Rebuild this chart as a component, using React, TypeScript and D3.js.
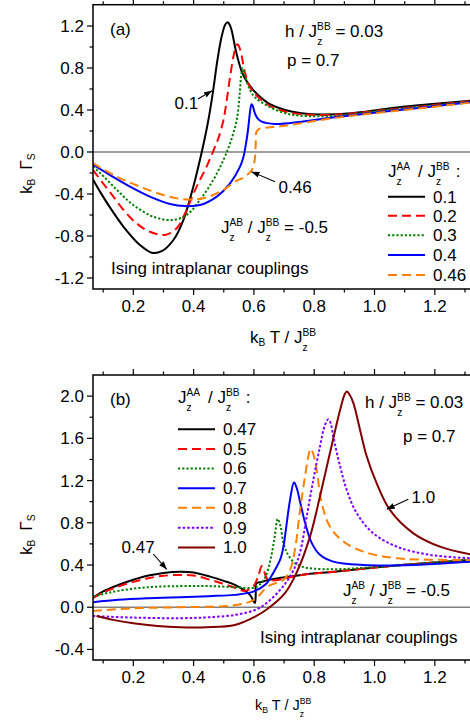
import React from "react";
import * as d3 from "d3";

// ---------- data ----------
// Panel (a): J_z^AA / J_z^BB series  (T, k_B Γ_S)
const a_0_1: [number, number][] = [[0.066,-0.26],[0.09,-0.38],[0.123,-0.53],[0.167,-0.71],[0.222,-0.886],[0.261,-0.959],[0.294,-0.945],[0.333,-0.838],[0.366,-0.648],[0.399,-0.33],[0.427,0],[0.449,0.305],[0.465,0.59],[0.479,0.876],[0.493,1.1],[0.505,1.215],[0.513,1.235],[0.52,1.21],[0.526,1.16],[0.543,0.93],[0.565,0.73],[0.598,0.59],[0.631,0.5],[0.653,0.455],[0.703,0.4],[0.758,0.37],[0.825,0.358],[0.924,0.37],[1.035,0.41],[1.145,0.445],[1.32,0.49]];
const a_0_2: [number, number][] = [[0.066,-0.17],[0.1,-0.3],[0.134,-0.425],[0.167,-0.55],[0.211,-0.68],[0.255,-0.76],[0.305,-0.79],[0.344,-0.727],[0.377,-0.55],[0.41,-0.33],[0.443,-0.14],[0.471,0.05],[0.482,0.13],[0.499,0.305],[0.51,0.495],[0.521,0.717],[0.532,0.908],[0.541,1.01],[0.545,1.026],[0.55,1.01],[0.559,0.92],[0.57,0.76],[0.587,0.62],[0.615,0.52],[0.653,0.44],[0.703,0.385],[0.758,0.36],[0.869,0.355],[1.035,0.4],[1.32,0.485]];
const a_0_3: [number, number][] = [[0.066,-0.14],[0.09,-0.2],[0.145,-0.36],[0.2,-0.505],[0.266,-0.616],[0.327,-0.648],[0.377,-0.6],[0.421,-0.457],[0.465,-0.267],[0.499,-0.076],[0.521,0.083],[0.543,0.305],[0.553,0.56],[0.558,0.74],[0.563,0.8],[0.57,0.73],[0.587,0.59],[0.604,0.52],[0.648,0.435],[0.703,0.37],[0.758,0.345],[0.869,0.345],[1.035,0.395],[1.32,0.48]];
const a_0_4: [number, number][] = [[0.066,-0.12],[0.123,-0.22],[0.189,-0.33],[0.255,-0.425],[0.322,-0.495],[0.371,-0.515],[0.421,-0.505],[0.477,-0.425],[0.521,-0.3],[0.554,-0.14],[0.565,-0.05],[0.572,0.05],[0.58,0.2],[0.587,0.38],[0.592,0.455],[0.596,0.44],[0.603,0.37],[0.612,0.32],[0.626,0.289],[0.67,0.267],[0.758,0.289],[0.869,0.33],[1.035,0.385],[1.32,0.475]];
const a_0_46: [number, number][] = [[0.066,-0.105],[0.145,-0.235],[0.222,-0.33],[0.3,-0.41],[0.366,-0.45],[0.432,-0.441],[0.499,-0.362],[0.537,-0.283],[0.57,-0.235],[0.593,-0.171],[0.603,-0.07],[0.606,0.08],[0.608,0.19],[0.615,0.216],[0.626,0.226],[0.703,0.25],[0.869,0.325],[1.035,0.38],[1.32,0.47]];

// Panel (b)
const b_0_47: [number, number][] = [[0.066,0.09],[0.1,0.15],[0.15,0.21],[0.2,0.26],[0.25,0.3],[0.3,0.325],[0.355,0.337],[0.4,0.33],[0.455,0.29],[0.5,0.25],[0.537,0.211],[0.587,0.117],[0.603,0.04],[0.606,0.12],[0.608,0.225],[0.626,0.24],[0.648,0.259],[0.758,0.306],[0.869,0.337],[1.09,0.4],[1.32,0.448]];
const b_0_5: [number, number][] = [[0.066,0.085],[0.1,0.14],[0.15,0.195],[0.2,0.24],[0.25,0.275],[0.3,0.298],[0.355,0.306],[0.4,0.3],[0.455,0.26],[0.5,0.22],[0.537,0.185],[0.57,0.155],[0.598,0.196],[0.615,0.3],[0.626,0.39],[0.635,0.33],[0.648,0.259],[0.758,0.306],[0.869,0.337],[1.09,0.4],[1.32,0.448]];
const b_0_6: [number, number][] = [[0.066,0.1],[0.1,0.125],[0.15,0.155],[0.25,0.19],[0.355,0.2],[0.45,0.2],[0.537,0.19],[0.6,0.185],[0.62,0.215],[0.64,0.3],[0.655,0.45],[0.668,0.65],[0.679,0.837],[0.688,0.77],[0.697,0.62],[0.709,0.52],[0.731,0.43],[0.758,0.385],[0.8,0.365],[0.869,0.36],[1.0,0.38],[1.32,0.45]];
const b_0_7: [number, number][] = [[0.066,0.047],[0.15,0.07],[0.25,0.085],[0.355,0.095],[0.45,0.105],[0.537,0.117],[0.6,0.15],[0.64,0.22],[0.665,0.33],[0.687,0.45],[0.698,0.575],[0.709,0.8],[0.72,1.02],[0.733,1.185],[0.743,1.12],[0.753,1.0],[0.77,0.796],[0.792,0.607],[0.819,0.496],[0.863,0.432],[0.963,0.4],[1.13,0.4],[1.32,0.432]];
const b_0_8: [number, number][] = [[0.066,-0.035],[0.2,-0.01],[0.355,0.0],[0.537,0.02],[0.6,0.07],[0.648,0.2],[0.698,0.259],[0.72,0.354],[0.736,0.543],[0.753,0.92],[0.77,1.25],[0.782,1.45],[0.788,1.5],[0.796,1.46],[0.808,1.3],[0.825,0.986],[0.852,0.764],[0.897,0.622],[0.963,0.527],[1.074,0.464],[1.32,0.448]];
const b_0_9: [number, number][] = [[0.066,-0.083],[0.2,-0.098],[0.355,-0.104],[0.45,-0.095],[0.537,-0.073],[0.604,-0.026],[0.648,0.053],[0.703,0.22],[0.731,0.35],[0.753,0.52],[0.775,0.859],[0.797,1.207],[0.819,1.52],[0.835,1.72],[0.847,1.78],[0.855,1.74],[0.863,1.62],[0.886,1.333],[0.908,1.11],[0.941,0.89],[0.996,0.7],[1.074,0.574],[1.184,0.496],[1.32,0.464]];
const b_1_0: [number, number][] = [[0.078,-0.083],[0.133,-0.12],[0.2,-0.152],[0.28,-0.178],[0.355,-0.19],[0.443,-0.19],[0.537,-0.168],[0.604,-0.089],[0.648,-0.01],[0.703,0.133],[0.742,0.33],[0.786,0.669],[0.819,1.048],[0.852,1.46],[0.886,1.87],[0.9,2.01],[0.908,2.044],[0.918,2.01],[0.93,1.934],[0.952,1.68],[0.974,1.43],[1.007,1.175],[1.051,0.922],[1.129,0.7],[1.217,0.574],[1.32,0.5]];

const xMajorTicks = [0.2, 0.4, 0.6, 0.8, 1.0, 1.2];
const xMinorTicks = [0.1, 0.3, 0.5, 0.7, 0.9, 1.1, 1.3];
const yMajorTicksA = [-1.2, -0.8, -0.4, 0, 0.4, 0.8, 1.2];
const yMinorTicksA = [-1.0, -0.6, -0.2, 0.2, 0.6, 1.0];
const yMajorTicksB = [-0.4, 0, 0.4, 0.8, 1.2, 1.6, 2.0];
const yMinorTicksB = [-0.2, 0.2, 0.6, 1.0, 1.4, 1.8];

const labelsA = ["0.1", "0.2", "0.3", "0.4", "0.46"];
const labelsB = ["0.47", "0.5", "0.6", "0.7", "0.8", "0.9", "1.0"];

// ---------- styles ----------
const FONT = "'Liberation Sans', Arial, Helvetica, sans-serif";
type Sty = { color: string; dash?: string };
const BLACK: Sty = { color: "#000000" };
const RED: Sty = { color: "#ff0000", dash: "9,5" };
const GREEN: Sty = { color: "#008000", dash: "2.2,2" };
const BLUE: Sty = { color: "#0000ff" };
const ORANGE: Sty = { color: "#ff8000", dash: "9,5" };
const PURPLE: Sty = { color: "#8000ff", dash: "2.6,2" };
const MAROON: Sty = { color: "#800000" };

const seriesA = [
  { data: a_0_1, s: BLACK },
  { data: a_0_2, s: RED },
  { data: a_0_3, s: GREEN },
  { data: a_0_4, s: BLUE },
  { data: a_0_46, s: ORANGE },
];
const seriesB = [
  { data: b_0_47, s: BLACK },
  { data: b_0_5, s: RED },
  { data: b_0_6, s: GREEN },
  { data: b_0_7, s: BLUE },
  { data: b_0_8, s: ORANGE },
  { data: b_0_9, s: PURPLE },
  { data: b_1_0, s: MAROON },
];

const xScale = d3.scaleLinear().domain([0.0663, 1.32]).range([93, 471]);
const yA = d3.scaleLinear().domain([-1.305, 1.403]).range([289, 4.7]);
const yB = d3.scaleLinear().domain([-0.5, 2.2]).range([660, 375]);

type Part = { n?: string; sub?: string; zsup?: string; dx?: number };

function Rich({ x, y, parts, fs = 17, anchor = "start", transform }: { x: number; y: number; parts: Part[]; fs?: number; anchor?: string; transform?: string }) {
  const ss = fs * 0.6;
  const subOffSmall = fs * 0.2;
  const subOffZ = fs * 0.47;
  const supOff = -fs * 0.39;
  let cur = 0;
  const out: React.ReactNode[] = [];
  parts.forEach((p, i) => {
    if (p.n !== undefined) {
      out.push(<tspan key={i} dx={p.dx || 0} dy={-cur}>{p.n}</tspan>);
      cur = 0;
    } else if (p.sub !== undefined) {
      out.push(<tspan key={i} fontSize={ss} dx={p.dx || 0} dy={subOffSmall - cur}>{p.sub}</tspan>);
      cur = subOffSmall;
    } else if (p.zsup !== undefined) {
      out.push(<tspan key={i + "z"} fontSize={ss} dx={p.dx || 0} dy={subOffZ - cur}>z</tspan>);
      out.push(<tspan key={i + "s"} fontSize={ss} dx={-ss * 0.5} dy={supOff - subOffZ}>{p.zsup}</tspan>);
      cur = supOff;
    }
  });
  return (
    <text x={x} y={y} fontSize={fs} fontFamily={FONT} textAnchor={anchor} transform={transform} fill="#000">
      {out}
    </text>
  );
}

function Panel({ y, yMaj, yMin, series, clipId }: { y: d3.ScaleLinear<number, number>; yMaj: number[]; yMin: number[]; series: { data: [number, number][]; s: Sty }[]; clipId: string }) {
  const [x0, x1] = xScale.range();
  const [yb, yt] = y.range();
  const line = d3
    .line<[number, number]>()
    .x((d) => xScale(d[0]))
    .y((d) => y(d[1]))
    .curve(d3.curveCatmullRom.alpha(0.5));
  return (
    <g>
      <defs>
        <clipPath id={clipId}>
          <rect x={x0} y={yt} width={x1 - x0} height={yb - yt} />
        </clipPath>
      </defs>
      <line x1={x0} x2={x1} y1={y(0)} y2={y(0)} stroke="#808080" strokeWidth={1.5} />
      <g clipPath={`url(#${clipId})`}>
        {series.map((sr, i) => (
          <path key={i} d={line(sr.data) || ""} fill="none" stroke={sr.s.color} strokeWidth={2} strokeDasharray={sr.s.dash} />
        ))}
      </g>
      <rect x={x0} y={yt} width={x1 - x0} height={yb - yt} fill="none" stroke="#000" strokeWidth={1.5} />
      {xMajorTicks.map((t) => (
        <g key={"xM" + t}>
          <line x1={xScale(t)} x2={xScale(t)} y1={yb} y2={yb + 6} stroke="#000" strokeWidth={1.2} />
          <line x1={xScale(t)} x2={xScale(t)} y1={yt} y2={yt - 6} stroke="#000" strokeWidth={1.2} />
        </g>
      ))}
      {xMinorTicks.map((t) => (
        <g key={"xm" + t}>
          <line x1={xScale(t)} x2={xScale(t)} y1={yb} y2={yb + 3.5} stroke="#000" strokeWidth={1.2} />
          <line x1={xScale(t)} x2={xScale(t)} y1={yt} y2={yt - 3.5} stroke="#000" strokeWidth={1.2} />
        </g>
      ))}
      {yMaj.map((t) => (
        <line key={"yM" + t} x1={x0} x2={x0 - 6} y1={y(t)} y2={y(t)} stroke="#000" strokeWidth={1.2} />
      ))}
      {yMin.map((t) => (
        <line key={"ym" + t} x1={x0} x2={x0 - 3.5} y1={y(t)} y2={y(t)} stroke="#000" strokeWidth={1.2} />
      ))}
      {yMaj.map((t) => (
        <text key={"yl" + t} x={84} y={y(t)} dy="0.35em" textAnchor="end" fontSize={17} fontFamily={FONT}>
          {t.toFixed(1)}
        </text>
      ))}
      {xMajorTicks.map((t) => (
        <text key={"xl" + t} x={xScale(t)} y={yb + 23} textAnchor="middle" fontSize={17} fontFamily={FONT}>
          {t.toFixed(1)}
        </text>
      ))}
    </g>
  );
}

function Legend({ x, ys, labels, series }: { x: number; ys: number[]; labels: string[]; series: { s: Sty }[] }) {
  return (
    <g>
      {labels.map((l, i) => (
        <g key={l}>
          <line x1={x} x2={x + 37} y1={ys[i]} y2={ys[i]} stroke={series[i].s.color} strokeWidth={2} strokeDasharray={series[i].s.dash} />
          <text x={x + 45} y={ys[i]} dy="0.35em" fontSize={17} fontFamily={FONT}>
            {l}
          </text>
        </g>
      ))}
    </g>
  );
}

function Arrow({ x1, y1, x2, y2 }: { x1: number; y1: number; x2: number; y2: number }) {
  return <line x1={x1} y1={y1} x2={x2} y2={y2} stroke="#000" strokeWidth={1.1} markerEnd="url(#arrowHead)" />;
}

export default function App() {
  const legendYA = [196.7, 215.7, 235.2, 255, 275];
  const legendYB = [429.3, 449, 468.5, 488.3, 507.8, 527.7, 547.5];
  const ylabel: Part[] = [{ n: "k" }, { sub: "B" }, { n: "Γ", dx: 9 }, { sub: "S" }];
  const xlabel: Part[] = [{ n: "k" }, { sub: "B" }, { n: " T / J" }, { zsup: "BB" }];
  const hLabel: Part[] = [{ n: "h / J" }, { zsup: "BB" }, { n: " = 0.03" }];
  const abLabel: Part[] = [{ n: "J" }, { zsup: "AB" }, { n: " / J" }, { zsup: "BB" }, { n: " = -0.5" }];
  const legTitle: Part[] = [{ n: "J" }, { zsup: "AA" }, { n: "/ J", dx: 8 }, { zsup: "BB" }, { n: ":", dx: 6 }];
  return (
    <svg width={470} height={721} style={{ position: "absolute", left: 0, top: 0, background: "#fff" }} fontFamily={FONT}>
      <defs>
        <marker id="arrowHead" markerWidth={8} markerHeight={6} refX={8} refY={3} orient="auto" markerUnits="userSpaceOnUse">
          <path d="M0,0 L8,3 L0,6 z" fill="#000" />
        </marker>
      </defs>
      <rect x={0} y={0} width={470} height={721} fill="#fff" />

      {/* Panel (a) */}
      <Panel y={yA} yMaj={yMajorTicksA} yMin={yMinorTicksA} series={seriesA} clipId="clipA" />
      <text x={110} y={35} fontSize={17}>(a)</text>
      <Rich x={285} y={37} parts={hLabel} />
      <text x={287} y={66} fontSize={17}>p = 0.7</text>
      <text x={174.5} y={108.5} fontSize={17}>0.1</text>
      <Arrow x1={198} y1={99} x2={212} y2={90.7} />
      <text x={278.5} y={193} fontSize={17}>0.46</text>
      <Arrow x1={275} y1={181.7} x2={251.5} y2={171.7} />
      <Rich x={388} y={177} parts={legTitle} />
      <Legend x={388} ys={legendYA} labels={labelsA} series={seriesA} />
      <Rich x={221} y={233} parts={abLabel} />
      <text x={111} y={273.5} fontSize={17}>Ising intraplanar couplings</text>
      <Rich x={31.5} y={194} parts={ylabel} transform="rotate(-90, 31.5, 194)" />
      <Rich x={250} y={343} parts={xlabel} />

      {/* Panel (b) */}
      <Panel y={yB} yMaj={yMajorTicksB} yMin={yMinorTicksB} series={seriesB} clipId="clipB" />
      <text x={110} y={405} fontSize={17}>(b)</text>
      <Rich x={178} y={403} parts={legTitle} />
      <Legend x={178} ys={legendYB} labels={labelsB} series={seriesB} />
      <Rich x={365} y={408} parts={hLabel} />
      <text x={403} y={442} fontSize={17}>p = 0.7</text>
      <text x={411.5} y={503} fontSize={17}>1.0</text>
      <Arrow x1={408.3} y1={499.3} x2={386.7} y2={509.3} />
      <text x={121.5} y={553} fontSize={17}>0.47</text>
      <Arrow x1={153.3} y1={554} x2={166.7} y2={569.3} />
      <Rich x={343} y={596} parts={abLabel} />
      <text x={260} y={643} fontSize={17}>Ising intraplanar couplings</text>
      <Rich x={31.5} y={555} parts={ylabel} transform="rotate(-90, 31.5, 555)" />
      <Rich x={255} y={710} parts={xlabel} fs={14.5} />
    </svg>
  );
}
